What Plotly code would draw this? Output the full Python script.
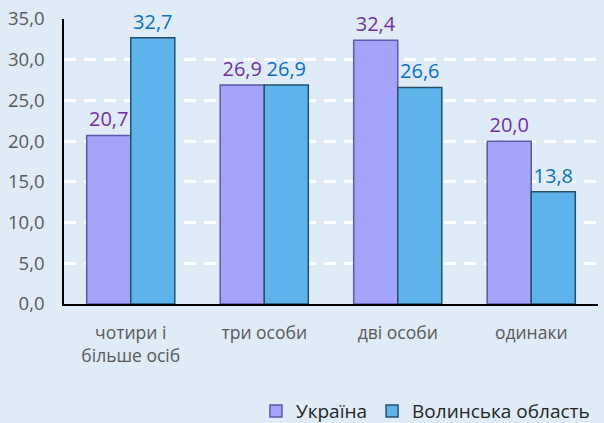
import plotly.graph_objects as go

categories = ["чотири і<br>більше осіб", "три особи", "дві особи", "одинаки"]
ukraine = [20.7, 26.9, 32.4, 20.0]
volyn = [32.7, 26.9, 26.6, 13.8]
series_names = ["Україна", "Волинська область"]
y_ticks = [0, 5, 10, 15, 20, 25, 30, 35]

FONT = "Open Sans"

fig = go.Figure()
fig.add_trace(go.Bar(
    x=categories, y=ukraine, name=series_names[0],
    marker=dict(color="#a3a3f7", line=dict(color="#5a5aa8", width=1.5)),
    texttemplate="%{y:.1f}", textposition="outside",
    textfont=dict(color="#7030a0", size=20, family=FONT),
    cliponaxis=False,
))
fig.add_trace(go.Bar(
    x=categories, y=volyn, name=series_names[1],
    marker=dict(color="#5db3ea", line=dict(color="#24506c", width=1.5)),
    texttemplate="%{y:.1f}", textposition="outside",
    textfont=dict(color="#0a70c0", size=20, family=FONT),
    cliponaxis=False,
))

fig.update_layout(
    width=604, height=423,
    margin=dict(l=64, r=6, t=19, b=119),
    paper_bgcolor="#dfebf7", plot_bgcolor="#dfebf7",
    separators=",.",
    barmode="group", bargap=0.34, bargroupgap=0,
    font=dict(family=FONT, color="#595959", size=17),
    showlegend=True,
    legend=dict(orientation="h", xref="container", yref="container",
                x=0.985, xanchor="right", y=0.028, yanchor="middle",
                font=dict(size=19, color="#262626", family=FONT),
                itemwidth=30, bgcolor="rgba(0,0,0,0)"),
)
fig.update_yaxes(range=[0, 35], tickvals=y_ticks, tickformat=".1f",
                 showgrid=True, gridcolor="white", griddash="12px,8px", gridwidth=2.5,
                 showline=True, linecolor="black", linewidth=1.5,
                 ticks="", zeroline=False, ticklabelstandoff=14,
                 tickfont=dict(size=18.5, color="#595959"))
fig.update_xaxes(showline=True, linecolor="black", linewidth=1.5, ticks="",
                 tickfont=dict(size=17.5, color="#595959"), ticklabelstandoff=12)

fig.write_html("out.html")
